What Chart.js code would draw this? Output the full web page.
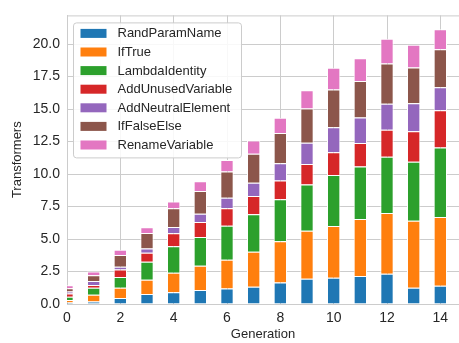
<!DOCTYPE html>
<html>
<head>
<meta charset="utf-8">
<script src="https://cdn.jsdelivr.net/npm/chart.js@4.4.0/dist/chart.umd.min.js"></script>
<style>
  html, body { margin: 0; padding: 0; background: #fff; }
  #wrap { width: 459px; height: 343px; position: relative; }
</style>
</head>
<body>
<div id="wrap"><canvas id="chart"></canvas></div>
<script>
// data
const generations = [0, 1, 2, 3, 4, 5, 6, 7, 8, 9, 10, 11, 12, 13, 14];
const xTicks = [0, 2, 4, 6, 8, 10, 12, 14];

const randParamName      = [0.12, 0.20, 0.47, 0.77, 0.90, 1.07, 1.20, 1.32, 1.65, 1.95, 2.02, 2.15, 2.33, 1.25, 1.40];
const ifTrue             = [0.18, 0.52, 0.78, 1.10, 1.50, 1.88, 2.20, 2.70, 3.17, 3.68, 3.98, 4.38, 4.67, 5.15, 5.30];
const lambdaIdentity     = [0.25, 0.53, 0.82, 1.38, 2.05, 2.20, 2.62, 2.88, 3.23, 3.57, 3.92, 4.05, 4.33, 4.55, 5.33];
const addUnusedVariable  = [0.25, 0.22, 0.58, 0.70, 1.00, 1.15, 1.35, 1.40, 1.45, 1.57, 1.75, 1.80, 2.07, 2.33, 2.87];
const addNeutralElement  = [0.17, 0.30, 0.22, 0.32, 0.48, 0.65, 0.81, 1.02, 1.32, 1.63, 1.93, 1.97, 2.00, 2.17, 1.78];
const ifFalseElse        = [0.25, 0.45, 0.90, 1.20, 1.44, 1.75, 2.02, 2.23, 2.33, 2.63, 2.90, 2.80, 3.10, 2.75, 2.92];
const renameVariable     = [0.23, 0.28, 0.40, 0.43, 0.51, 0.75, 0.87, 1.02, 1.18, 1.42, 1.68, 1.75, 1.90, 1.75, 1.53];

const seriesNames  = ['RandParamName', 'IfTrue', 'LambdaIdentity', 'AddUnusedVariable', 'AddNeutralElement', 'IfFalseElse', 'RenameVariable'];
const seriesValues = [randParamName, ifTrue, lambdaIdentity, addUnusedVariable, addNeutralElement, ifFalseElse, renameVariable];
const seriesColors = ['#1f77b4', '#ff7f0e', '#2ca02c', '#d62728', '#9467bd', '#8c564b', '#e377c2'];

const FONT = '"Liberation Sans", Arial, sans-serif';
const TEXT = '#262626';
const GRID = '#cccccc';

const datasets = seriesNames.map((name, s) => ({
  label: name,
  data: generations.map((g, i) => ({ x: g, y: seriesValues[s][i] })),
  backgroundColor: seriesColors[s],
  borderColor: '#ffffff',
  borderWidth: 1,
  clip: 0
}));

// matplotlib-like legend box in the upper left plus the top spine
const mplLegend = {
  id: 'mplLegend',
  afterDraw(chart) {
    const ctx = chart.ctx;
    const area = chart.chartArea;
    ctx.save();
    ctx.strokeStyle = GRID;
    ctx.lineWidth = 1;
    ctx.beginPath();
    ctx.moveTo(area.left, area.top + 0.5);
    ctx.lineTo(area.right, area.top + 0.5);
    ctx.stroke();

    const bx = area.left + 6.5, by = area.top + 7.5, bw = 168, bh = 135, r = 3;
    ctx.beginPath();
    ctx.moveTo(bx + r, by);
    ctx.arcTo(bx + bw, by, bx + bw, by + bh, r);
    ctx.arcTo(bx + bw, by + bh, bx, by + bh, r);
    ctx.arcTo(bx, by + bh, bx, by, r);
    ctx.arcTo(bx, by, bx + bw, by, r);
    ctx.closePath();
    ctx.fillStyle = 'rgba(255,255,255,0.85)';
    ctx.fill();
    ctx.strokeStyle = GRID;
    ctx.stroke();

    ctx.font = '13px ' + FONT;
    ctx.textBaseline = 'middle';
    chart.data.datasets.forEach((ds, i) => {
      const cy = by + 10.5 + i * 18.6;
      ctx.fillStyle = ds.backgroundColor;
      ctx.fillRect(bx + 7, cy - 4.5, 26, 9);
      ctx.fillStyle = TEXT;
      ctx.fillText(ds.label, bx + 44, cy + 0.5);
    });
    ctx.restore();
  }
};

new Chart(document.getElementById('chart'), {
  type: 'bar',
  data: { datasets },
  plugins: [mplLegend],
  options: {
    responsive: true,
    maintainAspectRatio: false,
    animation: false,
    layout: { padding: { top: 8, right: 0, left: 0, bottom: 0 } },
    categoryPercentage: 1.0,
    barPercentage: 0.5,
    plugins: {
      legend: { display: false },
      tooltip: { enabled: false }
    },
    scales: {
      x: {
        type: 'linear',
        stacked: true,
        offset: false,
        min: 0,
        max: 14.7,
        afterFit: s => { s.height = 39; },
        afterBuildTicks: s => { s.ticks = xTicks.map(v => ({ value: v })); },
        grid: { color: GRID, drawTicks: false, offset: false },
        border: { color: GRID },
        ticks: { color: TEXT, font: { family: FONT, size: 14 }, padding: 6, maxRotation: 0 },
        title: { display: true, text: 'Generation', color: TEXT, font: { family: FONT, size: 13 }, padding: { top: 0, bottom: 1 } }
      },
      y: {
        stacked: true,
        min: 0,
        max: 22.2,
        afterFit: s => { s.width = 67; },
        grid: { color: GRID, drawTicks: false },
        border: { color: GRID },
        ticks: {
          stepSize: 2.5,
          includeBounds: false,
          color: TEXT,
          font: { family: FONT, size: 14 },
          padding: 7,
          callback: v => v.toFixed(1)
        },
        title: { display: true, text: 'Transformers', color: TEXT, font: { family: FONT, size: 13 }, padding: { top: 10, bottom: 0 } }
      }
    }
  }
});
</script>
</body>
</html>
